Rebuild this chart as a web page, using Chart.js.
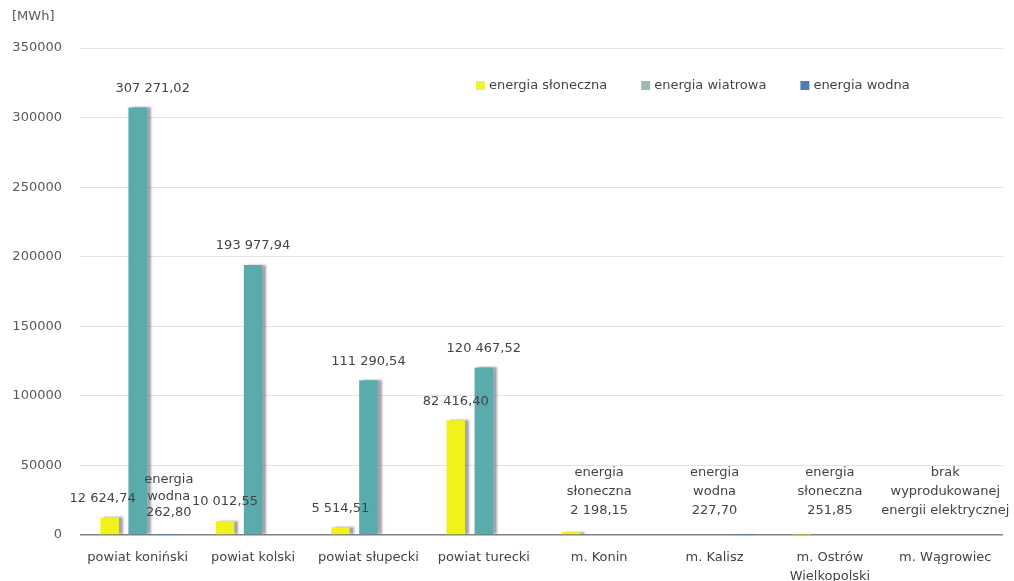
<!DOCTYPE html>
<html>
<head>
<meta charset="utf-8">
<script src="https://cdn.jsdelivr.net/npm/chart.js@4.4.1/dist/chart.umd.min.js"></script>
<style>
  html, body { margin: 0; padding: 0; background: #fff; }
  #wrap { width: 1014px; height: 581px; }
</style>
</head>
<body>
<div id="wrap"><canvas id="myChart" width="1014" height="581"></canvas></div>
<script>
/*DATA*/
const categories = ['powiat koniński', 'powiat kolski', 'powiat słupecki', 'powiat turecki',
    'm. Konin', 'm. Kalisz', ['m. Ostrów', 'Wielkopolski'], 'm. Wągrowiec']
const solar = [12624.74, 10012.55, 5514.51, 82416.40, 2198.15, null, 251.85, null]
const wind = [307271.02, 193977.94, 111290.54, 120467.52, null, null, null, null]
const hydro = [262.80, null, null, null, null, 227.70, null, null]
const seriesNames = ['energia słoneczna', 'energia wiatrowa', 'energia wodna']
const yTicks = [0, 50000, 100000, 150000, 200000, 250000, 300000, 350000]
const unitLabel = '[MWh]'
const noDataText = ['brak', 'wyprodukowanej', 'energii elektrycznej']

const colors = ['#f2f21a', '#5aabab', '#4a7ebb']
const legendColors = ['#eef23a', '#9dbbb3', '#4a7ebb']
const FONT = '"DejaVu Sans"'
const textColor = '#444444'

// small hand nudges for labels that excel moved sideways
const labelNudge = { '0-0': -7, '0-1': 15 }

function fmtPL(v){
    const parts = v.toFixed(2).split('.')
    return parts[0].replace(/\B(?=(\d{3})+(?!\d))/g, ' ') + ',' + parts[1]
}

/*SHADOW ON BARS*/
const barShadow = {
    id: 'barShadow',
    beforeDatasetDraw(chart){
        const ctx = chart.ctx
        ctx.save()
        ctx.shadowColor = 'rgba(90,90,110,0.55)'
        ctx.shadowOffsetX = 4
        ctx.shadowOffsetY = 0
        ctx.shadowBlur = 2
    },
    afterDatasetDraw(chart){
        chart.ctx.restore()
    }
}

/*LABELS, LEGEND, UNIT*/
const extras = {
    id: 'extras',
    afterDraw(chart){
        const ctx = chart.ctx
        const xs = chart.scales.x
        const ys = chart.scales.y
        ctx.save()
        ctx.fillStyle = textColor
        ctx.font = '13px ' + FONT
        ctx.textAlign = 'center'
        ctx.textBaseline = 'middle'

        const lineH = 19
        const baseY = ys.getPixelForValue(0) - 24

        categories.forEach((c, i) => {
            const big = [solar[i], wind[i], hydro[i]].some(v => v != null && v > 3000)
            let any = false
            chart.data.datasets.forEach((ds, d) => {
                const v = ds.data[i]
                if(v == null) return
                any = true
                const bar = chart.getDatasetMeta(d).data[i]
                if(v > 3000){
                    const nudge = labelNudge[i + '-' + d] || 0
                    const y = Math.min(bar.y - 19, baseY + 6)
                    ctx.fillText(fmtPL(v), bar.x + nudge, y)
                } else {
                    const lines = seriesNames[d].split(' ').concat([fmtPL(v)])
                    const x = big ? bar.x + 3 : xs.getPixelForValue(i)
                    const by = big ? baseY + 2 : baseY
                    const lh = big ? 16.5 : lineH
                    lines.forEach((t, k) => {
                        ctx.fillText(t, x, by - (lines.length - 1 - k) * lh)
                    })
                }
            })
            if(!any){
                const x = xs.getPixelForValue(i)
                noDataText.forEach((t, k) => {
                    ctx.fillText(t, x, baseY - (noDataText.length - 1 - k) * lineH)
                })
            }
        })

        // unit label
        ctx.textAlign = 'left'
        ctx.fillStyle = '#595959'
        ctx.fillText(unitLabel, 12, 17)

        // legend
        let lx = 476
        const ly = 86
        seriesNames.forEach((n, k) => {
            ctx.fillStyle = legendColors[k]
            ctx.fillRect(lx, ly - 5, 9, 9)
            ctx.fillStyle = textColor
            ctx.fillText(n, lx + 13, ly)
            lx += 13 + ctx.measureText(n).width + 34
        })
        ctx.restore()
    }
}

/*CHART*/
var ctx = document.getElementById('myChart').getContext('2d')
var myChart = new Chart(ctx, {
    type: 'bar',
    data: {
        labels: categories,
        datasets: [solar, wind, hydro].map((arr, k) => ({
            label: seriesNames[k],
            data: arr,
            backgroundColor: colors[k],
            borderWidth: 0,
            barPercentage: 0.66,
            categoryPercentage: 0.73
        }))
    },
    options: {
        responsive: false,
        animation: false,
        layout: { padding: { top: 48, right: 11, left: 0, bottom: 0 } },
        plugins: {
            legend: { display: false },
            tooltip: { enabled: false }
        },
        scales: {
            x: {
                grid: { display: false },
                border: { display: false },
                ticks: {
                    color: textColor,
                    font: { family: 'DejaVu Sans', size: 13, lineHeight: 1.4 },
                    padding: 6,
                    maxRotation: 0,
                    autoSkip: false
                },
                afterFit(scale){ scale.height = 46 }
            },
            y: {
                min: 0,
                max: 350000,
                afterBuildTicks(scale){ scale.ticks = yTicks.map(v => ({ value: v })) },
                grid: {
                    drawTicks: false,
                    color: c => c.tick && c.tick.value === 0 ? '#808080' : '#e3e3e3',
                    lineWidth: c => c.tick && c.tick.value === 0 ? 1.5 : 1
                },
                border: { display: false },
                ticks: {
                    color: '#595959',
                    font: { family: 'DejaVu Sans', size: 13 },
                    padding: 18,
                    callback: v => String(v)
                },
                afterFit(scale){ scale.width = 80 }
            }
        }
    },
    plugins: [barShadow, extras]
})
</script>
</body>
</html>
